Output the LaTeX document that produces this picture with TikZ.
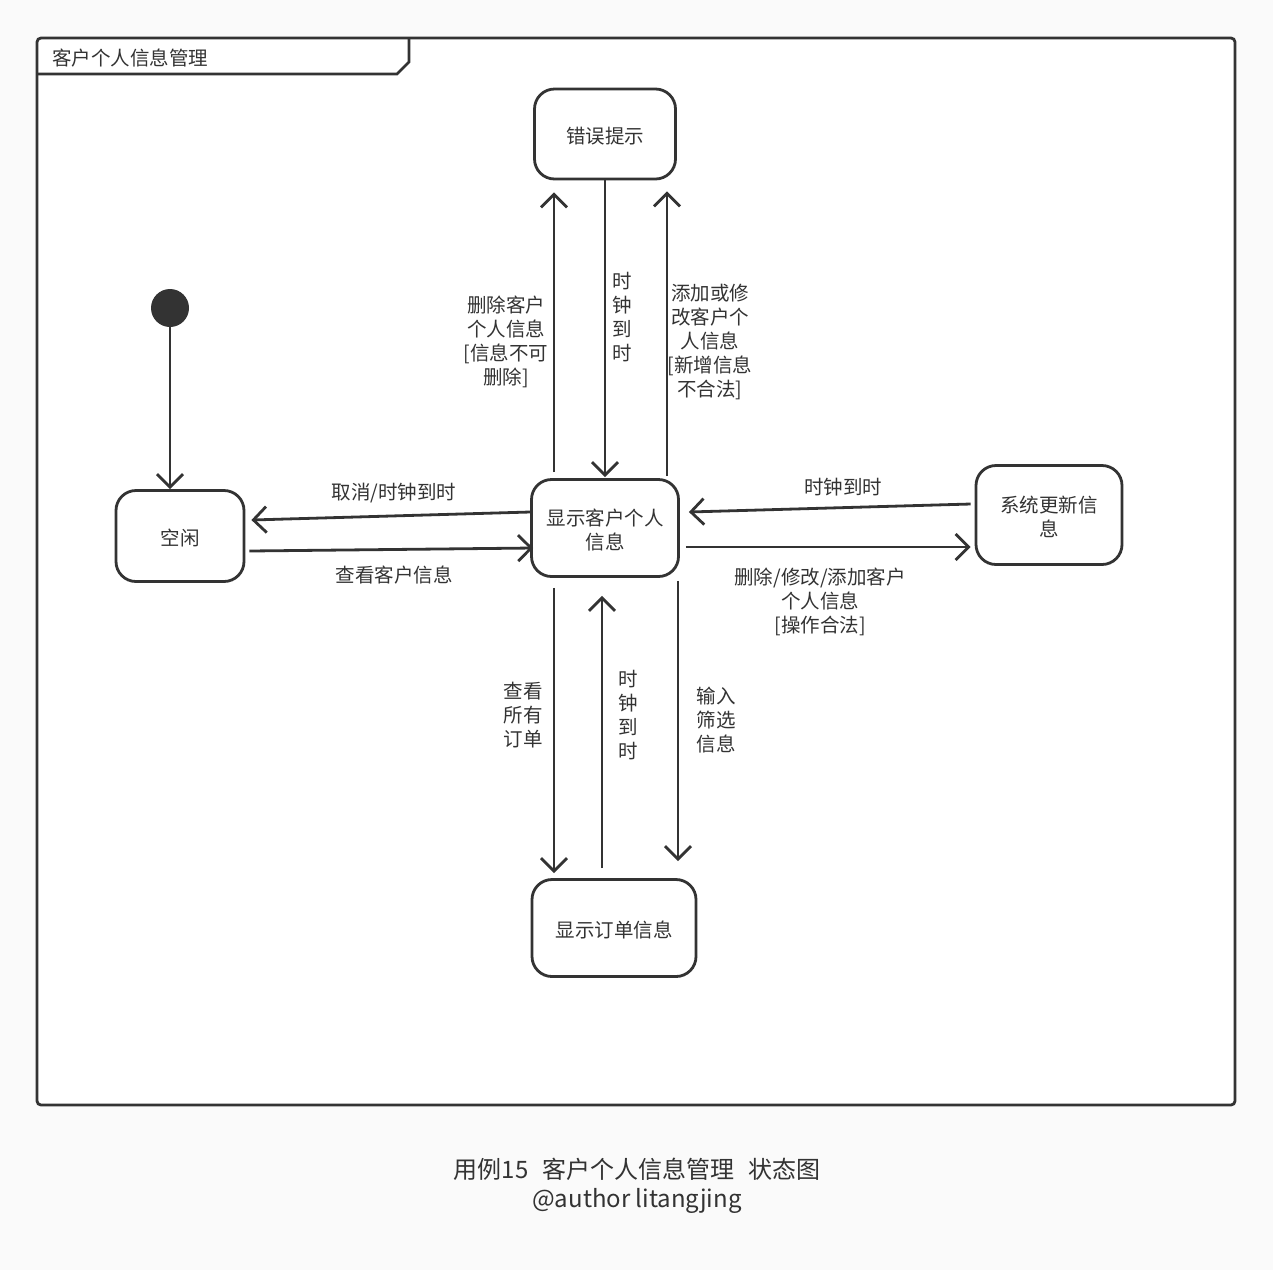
\documentclass[tikz,border=0pt]{standalone}
\usepackage{fontspec}
\setmainfont{Noto Sans CJK SC}
\usetikzlibrary{arrows.meta}
\definecolor{ink}{HTML}{333333}
\definecolor{paper}{HTML}{FAFAFA}
\begin{document}
\begin{tikzpicture}[x=1pt,y=-1pt,
  every node/.style={text=ink},
  lbl/.style={font=\fontsize{19.5}{24}\selectfont, align=center, inner sep=0pt},
  state/.style={draw=ink, line width=2.8pt, rounded corners=20pt, fill=white,
    inner sep=0pt, text depth=0pt, align=center, font=\fontsize{19.5}{24}\selectfont},
  trans/.style={draw=ink, line width=2.8pt,
    -{Straight Barb[length=13pt,width=26pt,line width=2.8pt]}}
]
% page and frame
\useasboundingbox (0,0) rectangle (1273,1270);
\fill[paper] (0,0) rectangle (1273,1270);
\draw[ink, line width=2.8pt, fill=white, rounded corners=4pt] (37,38) rectangle (1235,1105);
\draw[ink, line width=2.8pt] (37,74) -- (397,74) -- (409,62) -- (409,38);
\node[lbl, anchor=west] (title) at (52,58) {客户个人信息管理};

% states
\fill[ink] (170,308) circle (19);
\coordinate (init) at (170,327);
\node[state, minimum width=141pt, minimum height=90pt] (err) at (605,134) {\raisebox{-2pt}{错误提示}};
\node[state, minimum width=128pt, minimum height=91pt] (idle) at (180,536) {\raisebox{-2pt}{空闲}};
\node[state, minimum width=147pt, minimum height=97pt] (show) at (605,528) {\raisebox{-2pt}{显示客户个人}\\\raisebox{-2pt}{信息}};
\node[state, minimum width=146pt, minimum height=99pt] (sys) at (1049,515) {\raisebox{-2pt}{系统更新信}\\\raisebox{-2pt}{息}};
\node[state, minimum width=164pt, minimum height=97pt] (ord) at (614,928) {\raisebox{-2pt}{显示订单信息}};

% transitions
\draw[trans] (init) -- (idle.north -| init);
\draw[trans] ([yshift=16pt]show.west) -- ([xshift=6pt,yshift=16pt]idle.east);
\draw[trans] ([xshift=4pt,yshift=-15pt]idle.east) -- ([xshift=3pt,yshift=-20pt]show.west);
\draw[trans] ([xshift=-51pt,yshift=6pt]show.north) -- ([xshift=-51pt,yshift=-12pt]err.south);
\draw[trans] (err.south) -- ([yshift=1pt]show.north);
\draw[trans] ([xshift=62pt,yshift=2pt]show.north) -- ([xshift=62pt,yshift=-11pt]err.south);
\draw[trans] ([xshift=-4pt,yshift=11pt]sys.west) -- ([xshift=9pt,yshift=16pt]show.east);
\draw[trans] ([xshift=6pt,yshift=-19pt]show.east) -- ([xshift=-4pt,yshift=-32pt]sys.west);
\draw[trans] ([xshift=-51pt,yshift=-10pt]show.south) -- ([xshift=-60pt,yshift=5pt]ord.north);
\draw[trans] ([xshift=-12pt,yshift=10pt]ord.north) -- ([xshift=-3pt,yshift=-18pt]show.south);
\draw[trans] ([xshift=73pt,yshift=-3pt]show.south) -- ([xshift=64pt,yshift=17pt]ord.north);

% transition labels
\node[lbl] (l1) at (394,493) {取消/时钟到时};
\node[lbl] (l2) at (394,575) {查看客户信息};
\node[lbl] (l3) at (506,342) {删除客户\\个人信息\\{[}信息不可\\删除{]}};
\node[lbl] (l4) at (622,317) {时\\钟\\到\\时};
\node[lbl] (l5) at (710,342) {添加或修\\改客户个\\人信息\\{[}新增信息\\不合法{]}};
\node[lbl] (l6) at (843,487) {时钟到时};
\node[lbl] (l7) at (820,602) {删除/修改/添加客户\\个人信息\\{[}操作合法{]}};
\node[lbl] (l8) at (523,715) {查看\\所有\\订单};
\node[lbl] (l9) at (628,715) {时\\钟\\到\\时};
\node[lbl] (l10) at (716,720) {输入\\筛选\\信息};

% caption
\node[align=center, inner sep=0pt, font=\fontsize{24}{29}\selectfont] (cap) at (637,1186)
  {用例15\hspace{14pt}客户个人信息管理\hspace{14pt}状态图\\@author litangjing};
\end{tikzpicture}
\end{document}
